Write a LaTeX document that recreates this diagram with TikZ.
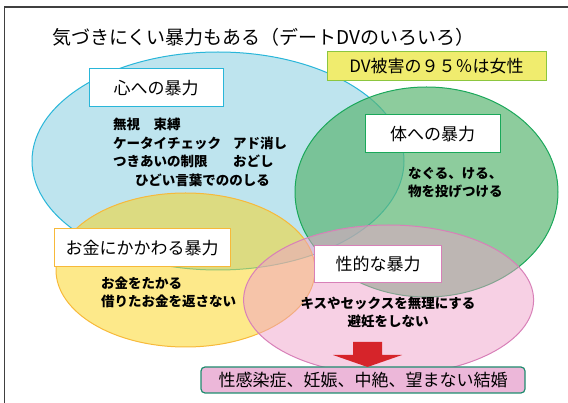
\documentclass[tikz,border=0pt]{standalone}
\usepackage{fontspec}
\setmainfont{Noto Sans CJK JP}
\usepackage{tikz}

\definecolor{kokorofill}{RGB}{190,228,238}
\definecolor{kokoroline}{RGB}{41,182,217}
\definecolor{karadafill}{RGB}{92,182,116}
\definecolor{karadaline}{RGB}{26,168,90}
\definecolor{okanefill}{RGB}{251,211,21}
\definecolor{okaneline}{RGB}{247,185,58}
\definecolor{seifill}{RGB}{239,161,201}
\definecolor{seiline}{RGB}{216,128,184}
\definecolor{dvfill}{RGB}{240,236,110}
\definecolor{dvline}{RGB}{140,198,63}
\definecolor{resultfill}{RGB}{236,183,217}
\definecolor{resultline}{RGB}{31,140,110}
\definecolor{arrowred}{RGB}{214,36,42}

\begin{document}
\begin{tikzpicture}[x=1pt,y=-1pt,
	venn/.style={line width=1pt},
	kind/.style={draw, fill=white, line width=1pt, inner sep=0pt, minimum height=38pt, font=\fontsize{17}{20}\selectfont},
	cases/.style={inner sep=0pt, align=left, font=\bfseries\fontsize{13.5}{18.5}\selectfont}]
	\useasboundingbox (0,0) rectangle (568,403);
	\draw[line width=1.2pt, black!75] (4.5,403) -- (4.5,7) -- (568,7);
	\node[anchor=west, inner sep=0pt, font=\fontsize{19}{21}\selectfont] (title) at (52,37) {気づきにくい暴力もある（デートDVのいろいろ）};
	\draw[venn, draw=kokoroline, fill=kokorofill] (218,161) ellipse (186 and 109);
	\draw[venn, draw=karadaline, fill=karadafill, fill opacity=0.7] (426.5,192) ellipse (131.5 and 105);
	\draw[venn, draw=okaneline, fill=okanefill, fill opacity=0.5] (185.5,270) ellipse (129.5 and 77);
	\draw[venn, draw=seiline, fill=seifill, fill opacity=0.5] (388.6,300) ellipse (145 and 75);
	\node[kind, draw=kokoroline, minimum width=134pt] (kokoro) at (156,88) {心への暴力};
	\node[kind, draw=karadaline, minimum width=135pt] (karada) at (432.5,134) {体への暴力};
	\node[kind, draw=okaneline, minimum width=176pt] (okane) at (142,248) {お金にかかわる暴力};
	\node[kind, draw=seiline, minimum width=127pt, minimum height=37pt] (sei) at (378,264.5) {性的な暴力};
	\node[draw=dvline, fill=dvfill, line width=1pt, inner sep=0pt, minimum width=219pt, minimum height=29pt, font=\fontsize{17}{20}\selectfont] (dv) at (436.5,66.5) {DV被害の９５％は女性};
	\node[cases, anchor=west] (kokorocases) at (113,152.5) {無視　束縛\\
		\makebox[120pt][l]{ケータイチェック}アド消し\\
		\makebox[120pt][l]{つきあいの制限}おどし\\
		\hspace*{22pt}ひどい言葉でののしる};
	\node[cases, anchor=west] (karadacases) at (408,182.5) {なぐる、ける、\\物を投げつける};
	\node[cases, anchor=west] (okanecases) at (101,292.5) {お金をたかる\\借りたお金を返さない};
	\node[cases, align=center] (seicases) at (388,312.5) {キスやセックスを無理にする\\避妊をしない};
	\node[draw=resultline, fill=resultfill, rounded corners=4pt, line width=1.2pt, inner sep=0pt, minimum width=324pt, minimum height=26pt, font=\fontsize{17}{20}\selectfont] (result) at (363,380) {性感染症、妊娠、中絶、望まない結婚};
	\fill[arrowred] (353,342) -- (382,342) -- (382,355) -- (402,355) -- (367.5,367) -- (333,355) -- (353,355) -- cycle;
\end{tikzpicture}
\end{document}
